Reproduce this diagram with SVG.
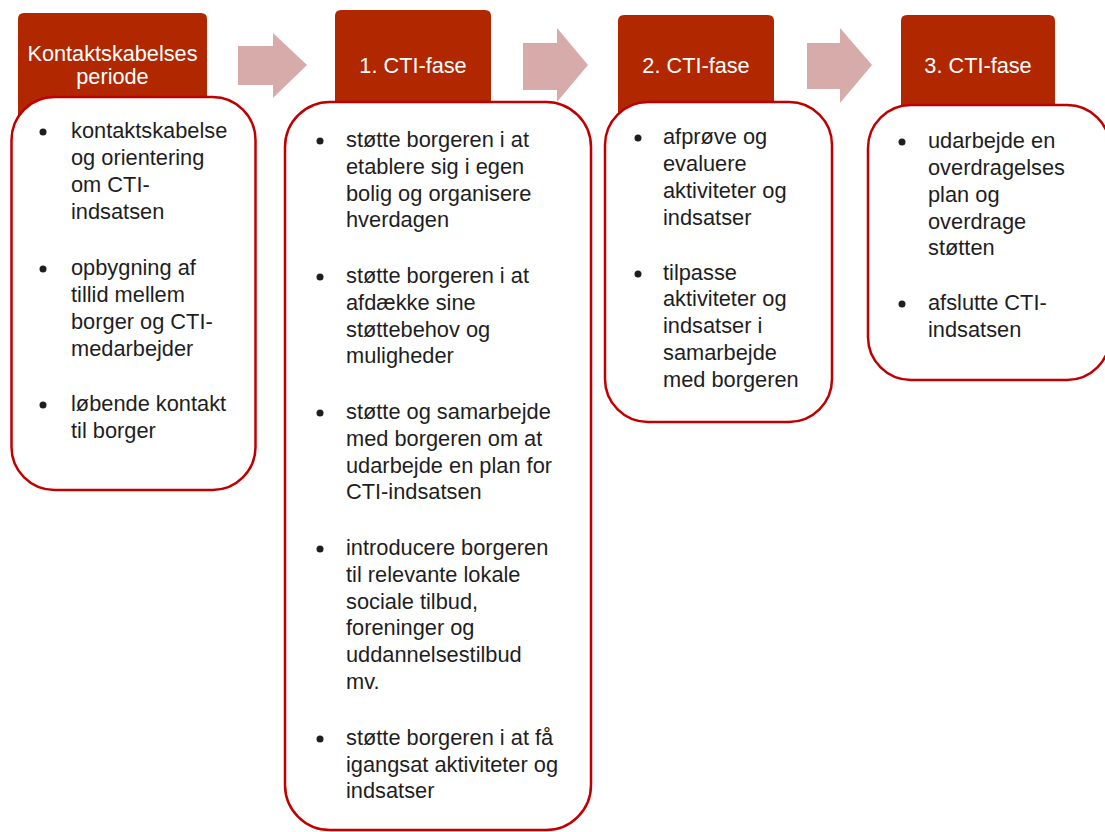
<svg xmlns="http://www.w3.org/2000/svg" width="1105" height="832" viewBox="0 0 1105 832">
<style>
.hdr{fill:#B02700}
.box{fill:#ffffff;stroke:#C00000;stroke-width:2.5}
.arr{fill:#D6ABA9}
.ht{font-family:"Liberation Sans",Arial,sans-serif;font-size:21.7px;fill:#ffffff;text-anchor:middle}
.t{font-family:"Liberation Sans",Arial,sans-serif;font-size:21.8px;fill:#1e1e1e}
.b{fill:#1e1e1e}
</style>
<rect width="1105" height="832" fill="#ffffff"/>
<g id="connectors">
<polygon class="arr" points="238,46 273,46 273,33 307,65 273,98 273,85 238,85"/>
<polygon class="arr" points="523,43 557,43 557,28 588,65 557,102 557,90 523,90"/>
<polygon class="arr" points="807,43 840,43 840,28 872,65 840,103 840,89 807,89"/>
</g>
<g id="phase0">
<path class="hdr" d="M18,19 Q18,13 24,13 L201,13 Q207,13 207,19 L207,130 L18,130 Z"/>
<text class="ht" x="112.5" y="60.5">Kontaktskabelses</text>
<text class="ht" x="112.5" y="83.5">periode</text>
<rect class="box" x="11.5" y="97" width="244" height="393" rx="43" ry="43"/>
<circle class="b" cx="43" cy="132" r="3.5"/>
<text class="t" x="71" y="138">kontaktskabelse</text>
<text class="t" x="71" y="165">og orientering</text>
<text class="t" x="71" y="192">om CTI-</text>
<text class="t" x="71" y="219">indsatsen</text>
<circle class="b" cx="43" cy="269" r="3.5"/>
<text class="t" x="71" y="275">opbygning af</text>
<text class="t" x="71" y="302">tillid mellem</text>
<text class="t" x="71" y="329">borger og CTI-</text>
<text class="t" x="71" y="356">medarbejder</text>
<circle class="b" cx="43" cy="405" r="3.5"/>
<text class="t" x="71" y="411">løbende kontakt</text>
<text class="t" x="71" y="438">til borger</text>
</g>
<g id="phase1">
<path class="hdr" d="M335,16 Q335,10 341,10 L485,10 Q491,10 491,16 L491,130 L335,130 Z"/>
<text class="ht" x="413" y="73">1. CTI-fase</text>
<rect class="box" x="285" y="102" width="306" height="728" rx="45" ry="45"/>
<circle class="b" cx="320" cy="141" r="3.5"/>
<text class="t" x="346" y="147">støtte borgeren i at</text>
<text class="t" x="346" y="174">etablere sig i egen</text>
<text class="t" x="346" y="201">bolig og organisere</text>
<text class="t" x="346" y="227">hverdagen</text>
<circle class="b" cx="320" cy="277" r="3.5"/>
<text class="t" x="346" y="283">støtte borgeren i at</text>
<text class="t" x="346" y="310">afdække sine</text>
<text class="t" x="346" y="337">støttebehov og</text>
<text class="t" x="346" y="363">muligheder</text>
<circle class="b" cx="320" cy="413" r="3.5"/>
<text class="t" x="346" y="419">støtte og samarbejde</text>
<text class="t" x="346" y="446">med borgeren om at</text>
<text class="t" x="346" y="473">udarbejde en plan for</text>
<text class="t" x="346" y="499">CTI-indsatsen</text>
<circle class="b" cx="320" cy="549" r="3.5"/>
<text class="t" x="346" y="555">introducere borgeren</text>
<text class="t" x="346" y="582">til relevante lokale</text>
<text class="t" x="346" y="609">sociale tilbud,</text>
<text class="t" x="346" y="635">foreninger og</text>
<text class="t" x="346" y="662">uddannelsestilbud</text>
<text class="t" x="346" y="689">mv.</text>
<circle class="b" cx="320" cy="739" r="3.5"/>
<text class="t" x="346" y="745">støtte borgeren i at få</text>
<text class="t" x="346" y="772">igangsat aktiviteter og</text>
<text class="t" x="346" y="798">indsatser</text>
</g>
<g id="phase2">
<path class="hdr" d="M618,21 Q618,15 624,15 L768,15 Q774,15 774,21 L774,130 L618,130 Z"/>
<text class="ht" x="696" y="73">2. CTI-fase</text>
<rect class="box" x="605" y="102" width="227" height="320" rx="43" ry="43"/>
<circle class="b" cx="638" cy="138" r="3.5"/>
<text class="t" x="663" y="144">afprøve og</text>
<text class="t" x="663" y="171">evaluere</text>
<text class="t" x="663" y="198">aktiviteter og</text>
<text class="t" x="663" y="225">indsatser</text>
<circle class="b" cx="638" cy="274" r="3.5"/>
<text class="t" x="663" y="280">tilpasse</text>
<text class="t" x="663" y="306">aktiviteter og</text>
<text class="t" x="663" y="333">indsatser i</text>
<text class="t" x="663" y="360">samarbejde</text>
<text class="t" x="663" y="387">med borgeren</text>
</g>
<g id="phase3">
<path class="hdr" d="M901,21 Q901,15 907,15 L1049,15 Q1055,15 1055,21 L1055,130 L901,130 Z"/>
<text class="ht" x="978" y="73">3. CTI-fase</text>
<rect class="box" x="868" y="105" width="242" height="275" rx="43" ry="43"/>
<circle class="b" cx="902" cy="142" r="3.5"/>
<text class="t" x="928" y="148">udarbejde en</text>
<text class="t" x="928" y="175">overdragelses</text>
<text class="t" x="928" y="202">plan og</text>
<text class="t" x="928" y="229">overdrage</text>
<text class="t" x="928" y="255">støtten</text>
<circle class="b" cx="902" cy="304" r="3.5"/>
<text class="t" x="928" y="310">afslutte CTI-</text>
<text class="t" x="928" y="337">indsatsen</text>
</g>
</svg>
